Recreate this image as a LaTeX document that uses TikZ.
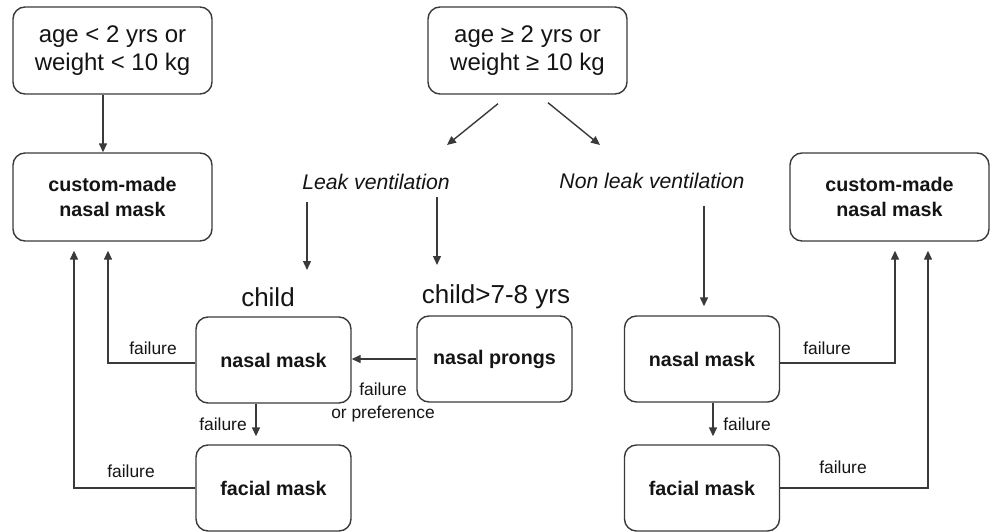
\documentclass[tikz,border=0pt]{standalone}
\usepackage{fontspec}
\setmainfont{Liberation Sans}
\usetikzlibrary{arrows.meta}
\definecolor{ln}{HTML}{3A3A3A}
\definecolor{tx}{HTML}{141414}
\begin{document}
\begin{tikzpicture}[x=1pt,y=-1pt,
 box/.style={draw=ln, line width=1.4pt, rounded corners=12pt, align=center, text=tx, inner sep=0pt},
 bigbox/.style={box, minimum width=199pt, minimum height=87pt, font=\fontsize{24}{28}\selectfont},
 cmbox/.style={box, minimum width=199pt, minimum height=88pt, font=\fontsize{19.7}{25}\selectfont\bfseries},
 mbox/.style={box, minimum width=155pt, minimum height=86pt, font=\fontsize{19.7}{24}\selectfont\bfseries},
 vent/.style={text=tx, font=\fontsize{21.2}{25}\selectfont\itshape, inner sep=0pt},
 agelbl/.style={text=tx, font=\fontsize{26}{30}\selectfont, inner sep=0pt},
 flbl/.style={text=tx, font=\fontsize{17.4}{23}\selectfont, inner sep=0pt, align=center},
 arr/.style={draw=ln, line width=1.4pt, -{Triangle[length=9pt,width=8pt]}},
 con/.style={draw=ln, line width=1.4pt}]
\useasboundingbox (0,0) rectangle (994,532);
\node[bigbox] (b1) at (112.5,50.5) {age < 2 yrs or\\weight < 10 kg};
\node[bigbox] (b2) at (527.5,50.5) {age ≥ 2 yrs or\\weight ≥ 10 kg};
\node[cmbox] (cl) at (112.5,197) {custom-made\\nasal mask};
\node[cmbox] (cr) at (889.5,197) {custom-made\\nasal mask};
\node[vent] (leak) at (376,182) {Leak ventilation};
\node[vent] (nonleak) at (652,181) {Non leak ventilation};
\node[agelbl] (child) at (268,297) {child};
\node[agelbl] (older) at (496,297) {child>7-8 yrs};
\node[mbox] (nml) at (273.5,360) {nasal mask};
\node[mbox] (np) at (494.5,359) {nasal prongs};
\node[mbox] (fml) at (273.5,488) {facial mask};
\node[mbox] (nmr) at (702,359) {nasal mask};
\node[mbox] (fmr) at (702,488) {facial mask};
% labels
\node[flbl] (f1) at (153,348) {failure};
\node[flbl] (f2) at (131,471) {failure};
\node[flbl] (f3) at (223,424) {failure};
\node[flbl] (f4) at (383,402) {failure\\or preference};
\node[flbl] (f5) at (827,348) {failure};
\node[flbl] (f6) at (843,467) {failure};
\node[flbl] (f7) at (747,424) {failure};
% connectors
\draw[arr] ([xshift=-9.5pt]b1.south) -- ([xshift=-9.5pt]cl.north);
\draw[arr] ([shift={(-29.5,9)}]b2.south) -- ([shift={(71,-37)}]leak.center);
\draw[arr] ([shift={(20.5,8)}]b2.south) -- ([shift={(-52,-36)}]nonleak.center);
\draw[arr] ([shift={(-69,20)}]leak.center) -- ([shift={(39,-27)}]child.center);
\draw[arr] ([shift={(61,15)}]leak.center) -- ([shift={(-59,-32)}]older.center);
\draw[arr] ([shift={(52,25)}]nonleak.center) -- ([shift={(2,-9)}]nmr.north);
\draw[arr] (np.west) -- (np.west -| nml.east);
\draw[arr] ([xshift=-17.5pt]nml.south) -- ([shift={(-17.5,-8)}]fml.north);
\draw[arr] ([xshift=11pt]nmr.south) -- ([shift={(11,-8)}]fmr.north);
\draw[arr] ([shift={(0,3)}]nml.west) -| ([shift={(-4.5,9)}]cl.south);
\draw[arr] (fml.west) -| ([shift={(-38.5,9)}]cl.south);
\draw[arr] ([shift={(0,4)}]nmr.east) -| ([shift={(5.5,9)}]cr.south);
\draw[arr] (fmr.east) -| ([shift={(38.5,9)}]cr.south);
\end{tikzpicture}
\end{document}
